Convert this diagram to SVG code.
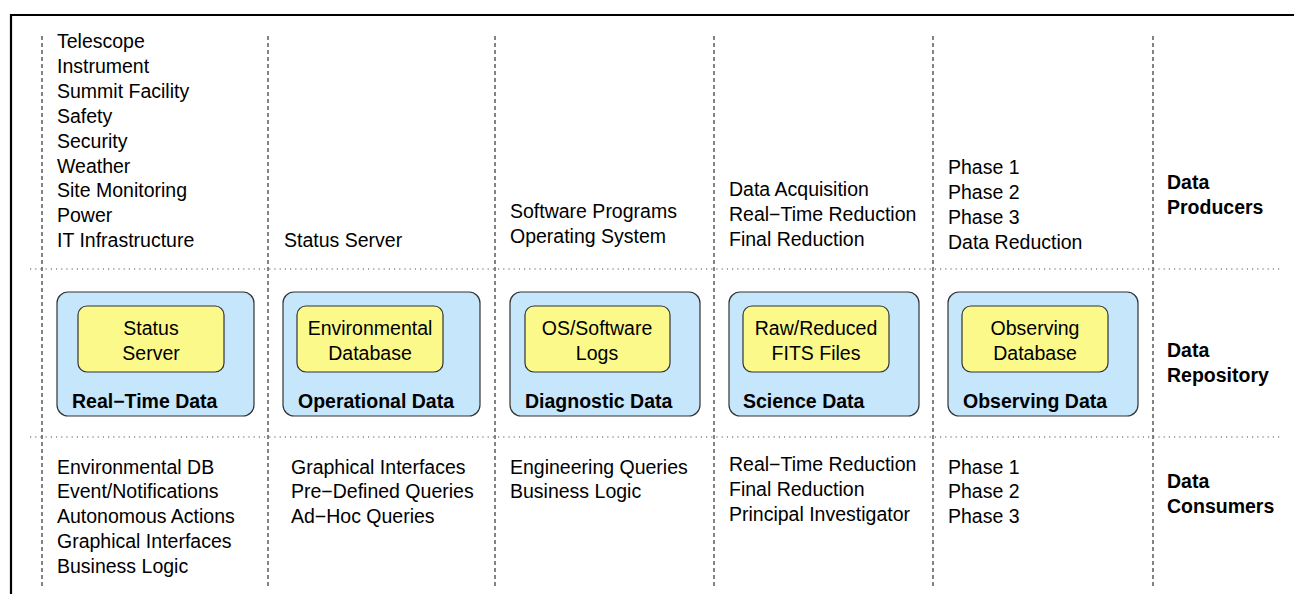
<svg xmlns="http://www.w3.org/2000/svg" width="1294" height="594" viewBox="0 0 1294 594">
  <style>
    text { font-family: "Liberation Sans", Arial, Helvetica, sans-serif; font-size: 19.5px; fill: #000; }
    .b { font-weight: bold; }
    .c { text-anchor: middle; }
    .vsep { stroke: #333; stroke-width: 1.2; stroke-dasharray: 4 3; fill: none; }
    .hsep { stroke: #555; stroke-width: 1.2; stroke-dasharray: 1.2 4; fill: none; }
    .outer { fill: #c5e6fb; stroke: #333; stroke-width: 1.2; }
    .inner { fill: #fbf98a; stroke: #333; stroke-width: 1.2; }
  </style>

  <rect width="1294" height="594" fill="#fff"/>

  <!-- frame -->
  <path d="M11 594 V15 H1294" fill="none" stroke="#000" stroke-width="2.2"/>

  <!-- column and row separators -->
  <g id="separators">
    <line class="vsep" x1="42" y1="36" x2="42" y2="586"/>
    <line class="vsep" x1="268" y1="36" x2="268" y2="586"/>
    <line class="vsep" x1="495" y1="36" x2="495" y2="586"/>
    <line class="vsep" x1="714" y1="36" x2="714" y2="586"/>
    <line class="vsep" x1="933" y1="36" x2="933" y2="586"/>
    <line class="vsep" x1="1153" y1="36" x2="1153" y2="586"/>
    <line class="hsep" x1="30" y1="269" x2="1282" y2="269"/>
    <line class="hsep" x1="30" y1="437" x2="1282" y2="437"/>
  </g>

  <!-- producers -->
  <g id="producers">
    <text x="57" y="48">Telescope</text>
    <text x="57" y="73">Instrument</text>
    <text x="57" y="98">Summit Facility</text>
    <text x="57" y="123">Safety</text>
    <text x="57" y="148">Security</text>
    <text x="57" y="173">Weather</text>
    <text x="57" y="197">Site Monitoring</text>
    <text x="57" y="222">Power</text>
    <text x="57" y="247">IT Infrastructure</text>

    <text x="284" y="247">Status Server</text>

    <text x="510" y="218">Software Programs</text>
    <text x="510" y="243">Operating System</text>

    <text x="729" y="196">Data Acquisition</text>
    <text x="729" y="221">Real−Time Reduction</text>
    <text x="729" y="246">Final Reduction</text>

    <text x="948" y="174">Phase 1</text>
    <text x="948" y="199">Phase 2</text>
    <text x="948" y="224">Phase 3</text>
    <text x="948" y="249">Data Reduction</text>

    <text class="b" x="1167" y="189">Data</text>
    <text class="b" x="1167" y="214">Producers</text>
  </g>

  <!-- repositories -->
  <g id="realtime">
    <rect class="outer" x="57" y="292" width="197" height="124" rx="11"/>
    <rect class="inner" x="78" y="306" width="146" height="66" rx="9"/>
    <text class="c" x="151" y="335">Status</text>
    <text class="c" x="151" y="360">Server</text>
    <text class="b" x="72" y="408">Real−Time Data</text>
  </g>
  <g id="operational">
    <rect class="outer" x="283" y="292" width="197" height="124" rx="11"/>
    <rect class="inner" x="297" y="306" width="146" height="66" rx="9"/>
    <text class="c" x="370" y="335">Environmental</text>
    <text class="c" x="370" y="360">Database</text>
    <text class="b" x="298" y="408">Operational Data</text>
  </g>
  <g id="diagnostic">
    <rect class="outer" x="510" y="292" width="190" height="124" rx="11"/>
    <rect class="inner" x="525" y="306" width="145" height="66" rx="9"/>
    <text class="c" x="597" y="335">OS/Software</text>
    <text class="c" x="597" y="360">Logs</text>
    <text class="b" x="525" y="408">Diagnostic Data</text>
  </g>
  <g id="science">
    <rect class="outer" x="729" y="292" width="190" height="124" rx="11"/>
    <rect class="inner" x="743" y="306" width="146" height="66" rx="9"/>
    <text class="c" x="816" y="335">Raw/Reduced</text>
    <text class="c" x="816" y="360">FITS Files</text>
    <text class="b" x="743" y="408">Science Data</text>
  </g>
  <g id="observing">
    <rect class="outer" x="948" y="292" width="190" height="124" rx="11"/>
    <rect class="inner" x="962" y="306" width="146" height="66" rx="9"/>
    <text class="c" x="1035" y="335">Observing</text>
    <text class="c" x="1035" y="360">Database</text>
    <text class="b" x="963" y="408">Observing Data</text>
  </g>
  <g id="repository-label">
    <text class="b" x="1167" y="357">Data</text>
    <text class="b" x="1167" y="382">Repository</text>
  </g>

  <!-- consumers -->
  <g id="consumers">
    <text x="57" y="474">Environmental DB</text>
    <text x="57" y="498">Event/Notifications</text>
    <text x="57" y="523">Autonomous Actions</text>
    <text x="57" y="548">Graphical Interfaces</text>
    <text x="57" y="573">Business Logic</text>

    <text x="291" y="474">Graphical Interfaces</text>
    <text x="291" y="498">Pre−Defined Queries</text>
    <text x="291" y="523">Ad−Hoc Queries</text>

    <text x="510" y="474">Engineering Queries</text>
    <text x="510" y="498">Business Logic</text>

    <text x="729" y="471">Real−Time Reduction</text>
    <text x="729" y="496">Final Reduction</text>
    <text x="729" y="521">Principal Investigator</text>

    <text x="948" y="474">Phase 1</text>
    <text x="948" y="498">Phase 2</text>
    <text x="948" y="523">Phase 3</text>

    <text class="b" x="1167" y="488">Data</text>
    <text class="b" x="1167" y="513">Consumers</text>
  </g>
</svg>
